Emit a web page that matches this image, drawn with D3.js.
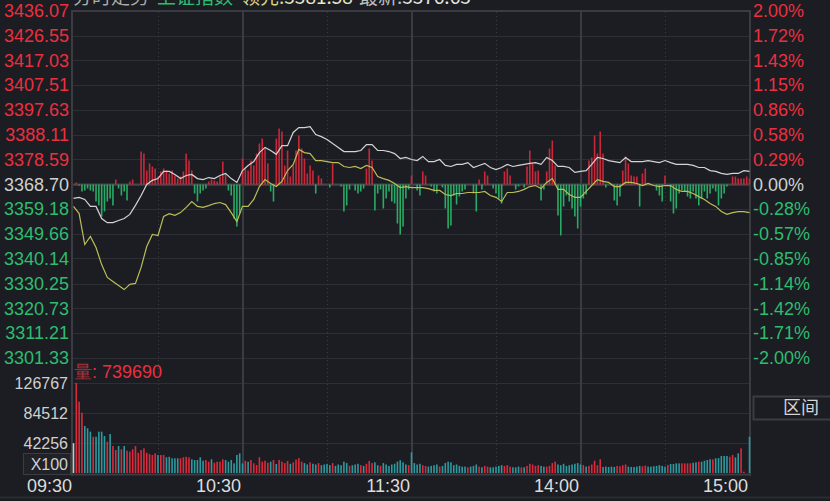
<!DOCTYPE html>
<html><head><meta charset="utf-8">
<script src="https://cdn.jsdelivr.net/npm/d3@7"></script>
<style>html,body{margin:0;padding:0;background:#1b1d22;overflow:hidden}</style>
</head><body><svg id="c" width="830" height="501"></svg>
<script>
// ---------- data ----------
const priceTicks = [3436.07,3426.55,3417.03,3407.51,3397.63,3388.11,3378.59,3368.70,3359.18,3349.66,3340.14,3330.25,3320.73,3311.21,3301.33];
const pctTicks = ["2.00%","1.72%","1.43%","1.15%","0.86%","0.58%","0.29%","0.00%","-0.28%","-0.57%","-0.85%","-1.14%","-1.42%","-1.71%","-2.00%"];
const prevClose = 3368.70;
const timeLabels = ["09:30","10:30","11:30","14:00","15:00"];
const timeMinutes = [0,60,120,180,240];
const halfHourMinutes = [30,90,150,210];
const volTicks = [126767,84512,42256];
const volTickLabels = ["126767","84512","42256"];

// price (white) and leading index (yellow), one value every 2 minutes
const priceLine = [
3363.3,3363.7,3362.9,3360.2,3360.2,3355.5,3353.9,3353.9,3354.7,3355.5,3357.1,3360.6,3364.4,3368.7,3370.3,3371.0,3373.8,3373.8,3372.6,3371.0,3372.2,3372.6,3371.0,3370.6,3371.4,3371.0,3372.2,3373.0,3371.0,3369.5,3374.1,
3376.1,3377.6,3381.1,3383.1,3381.9,3380.4,3383.8,3383.8,3388.9,3390.8,3390.8,3391.2,3388.1,3387.3,3386.2,3384.6,3383.1,3381.5,3381.5,3381.5,3381.9,3384.2,3384.2,3381.9,3381.9,3381.5,3380.7,3378.8,3379.2,3378.4,
3378.0,3379.6,3377.6,3377.6,3378.4,3376.1,3375.7,3376.5,3376.5,3377.2,3375.3,3376.1,3376.9,3375.3,3374.5,3375.3,3376.5,3375.7,3376.1,3376.5,3376.9,3377.2,3376.5,3379.2,3378.0,3375.7,3375.7,3375.3,3373.4,3373.8,
3374.1,3376.5,3379.2,3378.8,3378.0,3377.6,3377.2,3379.2,3377.6,3377.6,3377.6,3378.0,3377.6,3377.2,3378.0,3377.2,3376.5,3376.5,3376.5,3376.1,3375.3,3375.3,3374.1,3373.8,3373.0,3372.6,3373.0,3373.0,3374.1,3373.8];
const leadLine = [
3360.2,3357.4,3345.4,3348.5,3344.2,3337.6,3332.6,3331.0,3329.5,3327.9,3329.9,3330.3,3336.5,3344.6,3349.3,3348.9,3356.3,3357.4,3356.7,3357.8,3359.8,3362.1,3360.2,3359.8,3360.5,3361.3,3361.7,3360.9,3357.8,3354.3,3360.2,
3360.2,3362.9,3367.9,3370.6,3369.1,3367.9,3369.9,3374.1,3376.5,3382.3,3381.1,3380.7,3378.0,3378.0,3377.6,3377.2,3377.2,3375.7,3375.3,3375.7,3374.9,3376.1,3375.3,3371.8,3371.0,3370.3,3369.1,3367.5,3367.9,3367.5,
3367.5,3367.5,3367.1,3366.4,3366.4,3364.8,3364.4,3365.2,3365.2,3365.6,3365.6,3365.6,3366.0,3364.4,3363.7,3362.1,3365.6,3365.6,3366.0,3366.8,3367.9,3368.3,3367.1,3369.5,3371.0,3366.8,3366.8,3364.8,3363.7,3363.7,
3366.0,3368.3,3370.6,3369.9,3369.5,3367.9,3367.9,3369.5,3369.5,3369.1,3368.3,3369.1,3368.3,3367.9,3368.3,3368.3,3366.8,3366.0,3366.0,3365.2,3364.0,3362.9,3361.3,3360.2,3358.2,3357.1,3357.8,3358.2,3358.2,3357.8];

// buy/sell force, one value per minute
const force = [
0,2,-1,-7,-6,-4,-6,-7,-17,-21,
-32,-27,-17,-14,-21,5,-4,-11,-7,-16,
3,5,0,0,33,31,14,21,18,16,
8,13,16,14,11,14,9,6,8,13,
31,24,14,-9,-17,-9,-6,-4,3,5,
4,3,8,23,11,-6,-11,-34,-42,-29,
26,16,14,24,19,31,41,46,36,21,
-7,-17,46,56,53,19,34,8,19,34,
49,36,26,11,19,14,-9,9,6,0,
0,-3,21,0,0,-2,-27,-21,-5,0,
-6,-9,-7,-4,16,36,24,-26,-9,-5,
-24,-14,-7,-17,-19,-39,-50,-42,-14,-5,
9,0,-6,-11,13,9,0,-2,-7,-9,
0,-3,-24,-44,-41,-11,-20,-12,-7,-5,
0,0,-9,-27,5,-5,13,9,0,-4,
-9,-14,-19,13,16,9,0,-5,-2,0,
-3,18,34,21,13,14,-16,-5,13,36,
44,19,-31,-51,-22,-11,-17,-24,-32,-44,
-22,-14,-10,24,27,49,31,53,31,-3,
0,0,-16,-21,-12,14,28,21,9,8,
8,-22,11,16,0,0,0,-6,-11,-17,
9,0,-17,-29,-24,-9,-6,-7,-12,-14,
-7,-14,-21,-14,-7,-14,-9,-4,-7,-21,
-14,-9,-2,0,8,8,6,6,6,8,
6];

// volume (x100), one value per minute
const volume = [
42000,127000,100400,85000,66200,63000,58200,51100,51100,58200,
58200,52100,44100,54900,38000,32400,38000,33400,38000,31400,
30000,33400,38000,28600,32400,34800,28600,26800,25400,27700,
25400,25400,25400,22100,22800,20700,20700,20700,20700,22100,
22800,22100,19300,18300,18300,22100,17300,18300,15900,19300,
14500,15900,15900,19300,18300,15900,18300,13600,25400,27700,
13600,17300,15900,18300,13600,11300,22100,15900,17300,14500,
15900,18300,12700,18300,16000,14000,17000,13000,15000,19000,
21000,16000,14000,12000,15000,13000,12000,14000,11000,12000,
13000,11000,14000,10000,12000,11000,16000,14000,10000,11000,
12000,13000,11000,10000,13000,17000,14000,15000,11000,10000,
14000,12000,10000,12000,13000,16000,18000,15000,12000,11000,
29000,14000,12000,13000,11000,10000,9000,10000,11000,12000,
9000,10000,14000,16000,15000,11000,12000,10000,9000,9000,
8000,9000,10000,12000,9000,8000,10000,9000,8000,8000,
9000,10000,11000,10000,11000,9000,8000,8000,9000,8000,
8000,10000,13000,12000,10000,11000,10000,9000,9000,10000,
14000,16000,12000,11000,13000,10000,11000,12000,13000,14000,
12000,11300,9000,10000,12000,17300,11000,19500,8500,9000,
8500,9000,8500,10000,9500,11000,12000,9000,8500,8500,
9000,10000,9500,10500,9000,9000,9500,10000,11000,10000,
9000,11300,12700,12700,13600,13600,13600,13600,13600,13600,
14500,15000,15900,15900,17300,18300,19300,19300,20700,21000,
24000,24000,24000,22800,25400,22000,27700,34800,1800,0,
51100];
// volume bar direction per minute (g = auction, r = up, d = down)
const volDir = ("grrrdddrdd"+"ddrdrrdrdr"+"rrrrrrrrrr"+"drrdddddrr"+"rrdddddrrd"+"rrrrdddddd"+
  "drdrrrrrrr"+"drdrrrrdrr"+"rrddrddrdd"+"ddrdddddrd"+"ddrdrrrddr"+"dddddddddr"+
  "ddddrrdddd"+"rddddddddd"+"rdddrdrrdd"+"dddrrrdddr"+"drrrrrddrr"+"rrdddddddd"+
  "drdrrrrrdd"+"dddrrrrddd"+"ddrrdddddd"+"drddddrrrr"+"ddrddddrdd"+"dddrrddrrr"+"d").split("");

// ---------- drawing ----------
const svg = d3.select("#c");
const FONT = "'Liberation Sans', Arial, sans-serif";
const C = {bg:"#1b1d22", grid:"#2d2f34", vline:"#3a3c41", red:"#ec2f3f", green:"#2dbc70",
           barRed:"#c9283b", barGreen:"#27ab66", white:"#d4d4d4", yellow:"#bdbd58",
           volRed:"#dc2a3d", volTeal:"#2e9aa0", label:"#d0d0d0"};

svg.append("rect").attr("width",830).attr("height",501).attr("fill",C.bg);

const x = d3.scaleLinear().domain([0,240]).range([73.5,749.5]);
const y = d3.scaleLinear().domain([3301.33,3436.07]).range([358,11]);
const fs = d3.scaleLinear().domain([-173.5,173.5]).range([358,11]);
const v = d3.scaleLinear().domain([0,126767]).range([473,383]);

// horizontal grid (main)
svg.append("g").selectAll("line").data(priceTicks).join("line")
  .attr("x1",72).attr("x2",750)
  .attr("y1",d=>Math.round(y(d))+0.5).attr("y2",d=>Math.round(y(d))+0.5)
  .attr("stroke",C.grid).attr("stroke-width",1);
// zero line
svg.append("line").attr("x1",72).attr("x2",750)
  .attr("y1",y(prevClose)).attr("y2",y(prevClose))
  .attr("stroke","#44464b").attr("stroke-width",2);

// volume grid
svg.append("g").selectAll("line").data(volTicks).join("line")
  .attr("x1",72).attr("x2",750)
  .attr("y1",d=>Math.round(v(d))+0.5).attr("y2",d=>Math.round(v(d))+0.5)
  .attr("stroke",C.grid);
svg.append("line").attr("x1",72).attr("x2",750).attr("y1",474.5).attr("y2",474.5).attr("stroke",C.vline).attr("stroke-width",2);
svg.append("line").attr("x1",72).attr("x2",750).attr("y1",11).attr("y2",11).attr("stroke",C.vline).attr("stroke-width",2);
svg.append("line").attr("x1",0).attr("x2",830).attr("y1",497.5).attr("y2",497.5).attr("stroke","#2a2c31").attr("stroke-width",2);

// vertical lines
svg.append("g").selectAll("line").data(timeMinutes.slice(1,4)).join("line")
  .attr("x1",d=>Math.round(x(d))).attr("x2",d=>Math.round(x(d)))
  .attr("y1",11).attr("y2",475).attr("stroke",C.vline).attr("stroke-width",2);
svg.append("g").selectAll("line").data(halfHourMinutes).join("line")
  .attr("x1",d=>Math.round(x(d))+0.5).attr("x2",d=>Math.round(x(d))+0.5)
  .attr("y1",12).attr("y2",474).attr("stroke","#3a3c42").attr("stroke-dasharray","1,3");
[72,750].forEach(px=>svg.append("line").attr("x1",px).attr("x2",px).attr("y1",10).attr("y2",476)
  .attr("stroke",C.vline).attr("stroke-width",2));

// force bars
svg.append("g").selectAll("rect").data(force.map((f,i)=>({f,i})).filter(d=>d.f!==0)).join("rect")
  .attr("x",d=>x(d.i)-0.8).attr("width",1.6)
  .attr("y",d=>Math.min(fs(0),fs(d.f))).attr("height",d=>Math.abs(fs(d.f)-fs(0)))
  .attr("fill",d=>d.f>0?C.barRed:C.barGreen);

// lines
const line = d3.line().x((d,i)=>x(i*2)).y(d=>y(d)).curve(d3.curveLinear);
svg.append("path").datum(leadLine).attr("d",line).attr("fill","none").attr("stroke",C.yellow).attr("stroke-width",1.2);
svg.append("path").datum(priceLine).attr("d",line).attr("fill","none").attr("stroke",C.white).attr("stroke-width",1.2);

// volume bars
svg.append("g").selectAll("rect").data(volume.map((val,i)=>({val,i,d:volDir[i]})).filter(d=>d.val>0)).join("rect")
  .attr("x",d=>x(d.i)-0.8).attr("width",1.6)
  .attr("y",d=>v(d.val)).attr("height",d=>v(0)-v(d.val))
  .attr("fill",d=>d.d==="r"?C.volRed:(d.d==="d"?C.volTeal:"#c8c8c8"));

// left price labels
svg.append("g").selectAll("text").data(priceTicks).join("text")
  .attr("x",69).attr("y",d=>y(d)).attr("dy","0.36em").attr("text-anchor","end")
  .attr("font-family",FONT).attr("font-size",18)
  .attr("fill",d=>d>prevClose?C.red:(d<prevClose?C.green:C.label))
  .text(d=>d.toFixed(2));
// right pct labels
svg.append("g").selectAll("text").data(pctTicks).join("text")
  .attr("x",753).attr("y",(d,i)=>y(priceTicks[i])).attr("dy","0.36em")
  .attr("font-family",FONT).attr("font-size",18)
  .attr("fill",(d,i)=>i<7?C.red:(i>7?C.green:C.label))
  .text(d=>d);

// volume labels
svg.append("g").selectAll("text").data(volTicks).join("text")
  .attr("x",68).attr("y",d=>v(d)).attr("dy","0.36em").attr("text-anchor","end")
  .attr("font-family",FONT).attr("font-size",16).attr("fill",C.label)
  .text((d,i)=>volTickLabels[i]);
svg.append("rect").attr("x",23.5).attr("y",453.5).attr("width",47).attr("height",21)
  .attr("fill","#202227").attr("stroke","#3a3c41");
svg.append("text").attr("x",68).attr("y",464).attr("dy","0.36em").attr("text-anchor","end")
  .attr("font-family",FONT).attr("font-size",16).attr("fill",C.label).text("X100");

// volume title
const vt = svg.append("text").attr("x",74).attr("y",378).attr("font-family",FONT).attr("font-size",18);
vt.append("tspan").attr("fill","#a8343c").text("量");
vt.append("tspan").attr("fill",C.red).text(": 739690");

// time labels
svg.append("g").selectAll("text").data(timeLabels).join("text")
  .attr("x",(d,i)=>Math.round(x(timeMinutes[i]))-2).attr("y",492).attr("text-anchor","end")
  .attr("font-family",FONT).attr("font-size",18).attr("fill","#dcdcdc")
  .text(d=>d);

// title (mostly cut off at top, as in the reference)
const tt = svg.append("text").attr("x",73).attr("y",4).attr("font-family","'Noto Sans CJK SC', "+FONT).attr("font-size",19);
tt.append("tspan").attr("fill","#a9a9a9").text("分时走势");
tt.append("tspan").attr("dx",8).attr("fill",C.green).text("上证指数");
tt.append("tspan").attr("dx",8).attr("fill","#d6d68a").text("领先:");
tt.append("tspan").attr("fill","#e6e6c8").text("3381.58");
tt.append("tspan").attr("dx",6).attr("fill","#bdbdbd").text("最新:");
tt.append("tspan").attr("fill","#e6e6e6").text("3376.63");

// 区间 button
svg.append("rect").attr("x",753.5).attr("y",396.5).attr("width",80).attr("height",23)
  .attr("fill","#1b1d22").attr("stroke","#3a3c41").attr("stroke-width",2);
svg.append("text").attr("x",819).attr("y",408).attr("dy","0.36em").attr("text-anchor","end")
  .attr("font-family","'Noto Sans CJK SC', sans-serif").attr("font-size",18).attr("fill","#d4d4d4").text("区间");
</script></body></html>
